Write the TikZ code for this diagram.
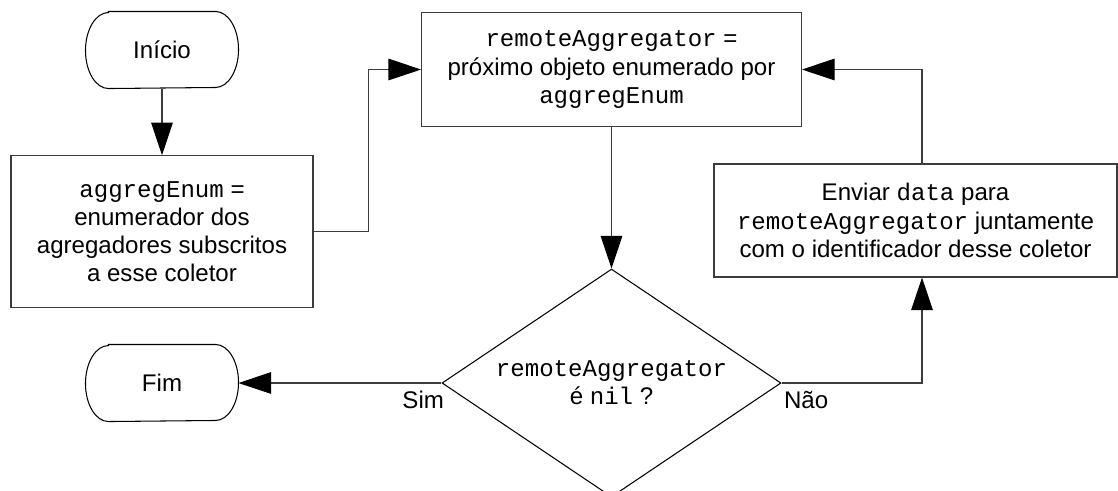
\documentclass[tikz,border=0pt]{standalone}
\usepackage{fontspec}
\setmainfont{Liberation Sans}
\setmonofont{Liberation Mono}
\usepackage{tikz}
\usetikzlibrary{positioning,calc,arrows.meta,shapes.geometric}
\definecolor{linec}{HTML}{3C3C3C}

\begin{document}
\begin{tikzpicture}[font=\fontsize{13.7}{16}\selectfont, line width=0.6pt,
  procbox/.style={draw=linec, align=center, inner sep=0pt},
  termbox/.style={minimum width=3.04cm, minimum height=1.52cm, inner sep=0pt},
  flow/.style={draw=linec, -{Triangle[length=0.65cm, width=0.43cm, color=black]}}]
  \useasboundingbox (0,0) rectangle (22.36,-9.8);
  % start and stop
  \node[termbox] (start) at (3.24,-1.00) {Início};
  \node[termbox] (stop) at (3.24,-7.66) {Fim};
  \foreach \t in {start,stop}
     \draw ([xshift=0.46cm]\t.north west) -- ([xshift=-0.46cm]\t.north east)
        arc[start angle=90, end angle=-90, x radius=0.46cm, y radius=0.76cm]
        -- ([xshift=0.46cm]\t.south west)
        arc[start angle=270, end angle=90, x radius=0.46cm, y radius=0.76cm] -- cycle;
  % steps
  \node[procbox, minimum width=6.04cm, minimum height=3.03cm] (enum) at (3.24,-4.63)
     {\texttt{aggregEnum} =\\enumerador dos\\agregadores subscritos\\a esse coletor};
  \node[procbox, minimum width=7.6cm, minimum height=2.27cm] (next) at (12.23,-1.39)
     {\texttt{remoteAggregator} =\\próximo objeto enumerado por\\\texttt{aggregEnum}};
  \node[procbox, minimum width=8.06cm, minimum height=2.26cm] (send) at (18.31,-4.41)
     {Enviar \texttt{data} para\\\texttt{remoteAggregator} juntamente\\com o identificador desse coletor};
  % test
  \node[draw=black, diamond, aspect=1.48, minimum width=6.78cm, minimum height=4.56cm,
     inner sep=0pt, align=center] (test) at (12.23,-7.66)
     {\texttt{remoteAggregator}\\é \texttt{nil} ?};
  % connectors
  \draw[flow] (start) -- (enum);
  \draw[flow] (enum.east) -- ++(1.1,0) |- (next.west);
  \draw[flow] (next) -- (test);
  \draw[flow] (test.west) -- node[pos=0, anchor=north east, inner sep=0pt, xshift=0.06cm, yshift=-0.16cm]{Sim} (stop.east);
  \draw[flow] (test.east) -| node[pos=0, anchor=north west, inner sep=0pt, xshift=0.04cm, yshift=-0.16cm]{Não} ([xshift=0.13cm]send.south);
  \draw[flow] ([xshift=0.13cm]send.north) |- (next.east);
\end{tikzpicture}
\end{document}
